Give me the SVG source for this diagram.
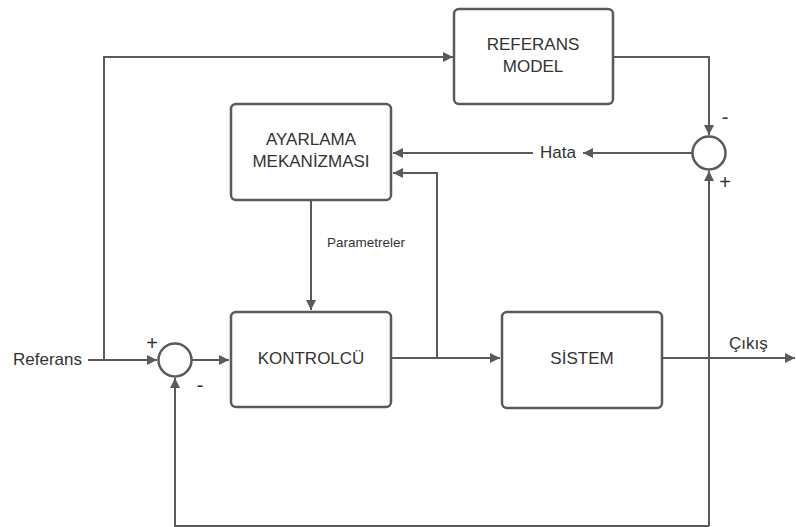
<svg xmlns="http://www.w3.org/2000/svg" width="796" height="527" viewBox="0 0 796 527">
<style>
.box{fill:#fff;stroke:#5a5a5a;stroke-width:2.5}
.ln{fill:none;stroke:#5a5a5a;stroke-width:2}
.sum{fill:#fff;stroke:#5a5a5a;stroke-width:2.5}
.t{font-family:"Liberation Sans",Arial,sans-serif;font-size:17px;fill:#333;text-anchor:middle}
.s{font-family:"Liberation Sans",Arial,sans-serif;font-size:13.5px;fill:#333}
.l{font-family:"Liberation Sans",Arial,sans-serif;font-size:17px;fill:#333}
.g{font-family:"Liberation Sans",Arial,sans-serif;font-size:20px;fill:#333;text-anchor:middle}
</style>
<defs>
<marker id="a" viewBox="0 0 10 10" refX="10" refY="5" markerWidth="12" markerHeight="10" markerUnits="userSpaceOnUse" orient="auto">
<path d="M0,0 L10,5 L0,10 z" fill="#5a5a5a"/>
</marker>
</defs>
<rect width="796" height="527" fill="#fff"/>
<g id="connectors">
<path class="ln" d="M88,360 H157" marker-end="url(#a)"/>
<path class="ln" d="M104,360 V57 H453" marker-end="url(#a)"/>
<path class="ln" d="M613,57 H709 V135" marker-end="url(#a)"/>
<path class="ln" d="M692,153 H583" marker-end="url(#a)"/>
<path class="ln" d="M533,153 H393" marker-end="url(#a)"/>
<path class="ln" d="M192,360 H229" marker-end="url(#a)"/>
<path class="ln" d="M391,358 H500" marker-end="url(#a)"/>
<path class="ln" d="M437,358 V173 H393" marker-end="url(#a)"/>
<path class="ln" d="M311,200 V310" marker-end="url(#a)"/>
<path class="ln" d="M662,358 H795" marker-end="url(#a)"/>
<path class="ln" d="M709,526 V171" marker-end="url(#a)"/>
<path class="ln" d="M709,526 H175 V378" marker-end="url(#a)"/>
</g>
<g id="referans-model">
<rect class="box" x="454" y="9" width="159" height="95" rx="5"/>
<text class="t" x="533" y="50">REFERANS</text>
<text class="t" x="533" y="72">MODEL</text>
</g>
<g id="ayarlama">
<rect class="box" x="231" y="104" width="160" height="96" rx="5"/>
<text class="t" x="311" y="145">AYARLAMA</text>
<text class="t" x="311" y="167">MEKANİZMASI</text>
</g>
<g id="kontrolcu">
<rect class="box" x="231" y="312" width="160" height="95" rx="5"/>
<text class="t" x="311" y="364">KONTROLCÜ</text>
</g>
<g id="sistem">
<rect class="box" x="502" y="312" width="160" height="96" rx="5"/>
<text class="t" x="582" y="364">SİSTEM</text>
</g>
<g id="sum1">
<circle class="sum" cx="175" cy="360" r="16.5"/>
<text class="g" x="152" y="350">+</text>
<text class="g" x="200" y="392">-</text>
</g>
<g id="sum2">
<circle class="sum" cx="709" cy="153" r="16.5"/>
<text class="g" x="725" y="124">-</text>
<text class="g" x="725" y="189">+</text>
</g>
<g id="labels">
<text class="l" x="13" y="365">Referans</text>
<text class="l" x="540" y="158">Hata</text>
<text class="s" x="327" y="247">Parametreler</text>
<text class="l" x="729" y="349">Çıkış</text>
</g>
</svg>
